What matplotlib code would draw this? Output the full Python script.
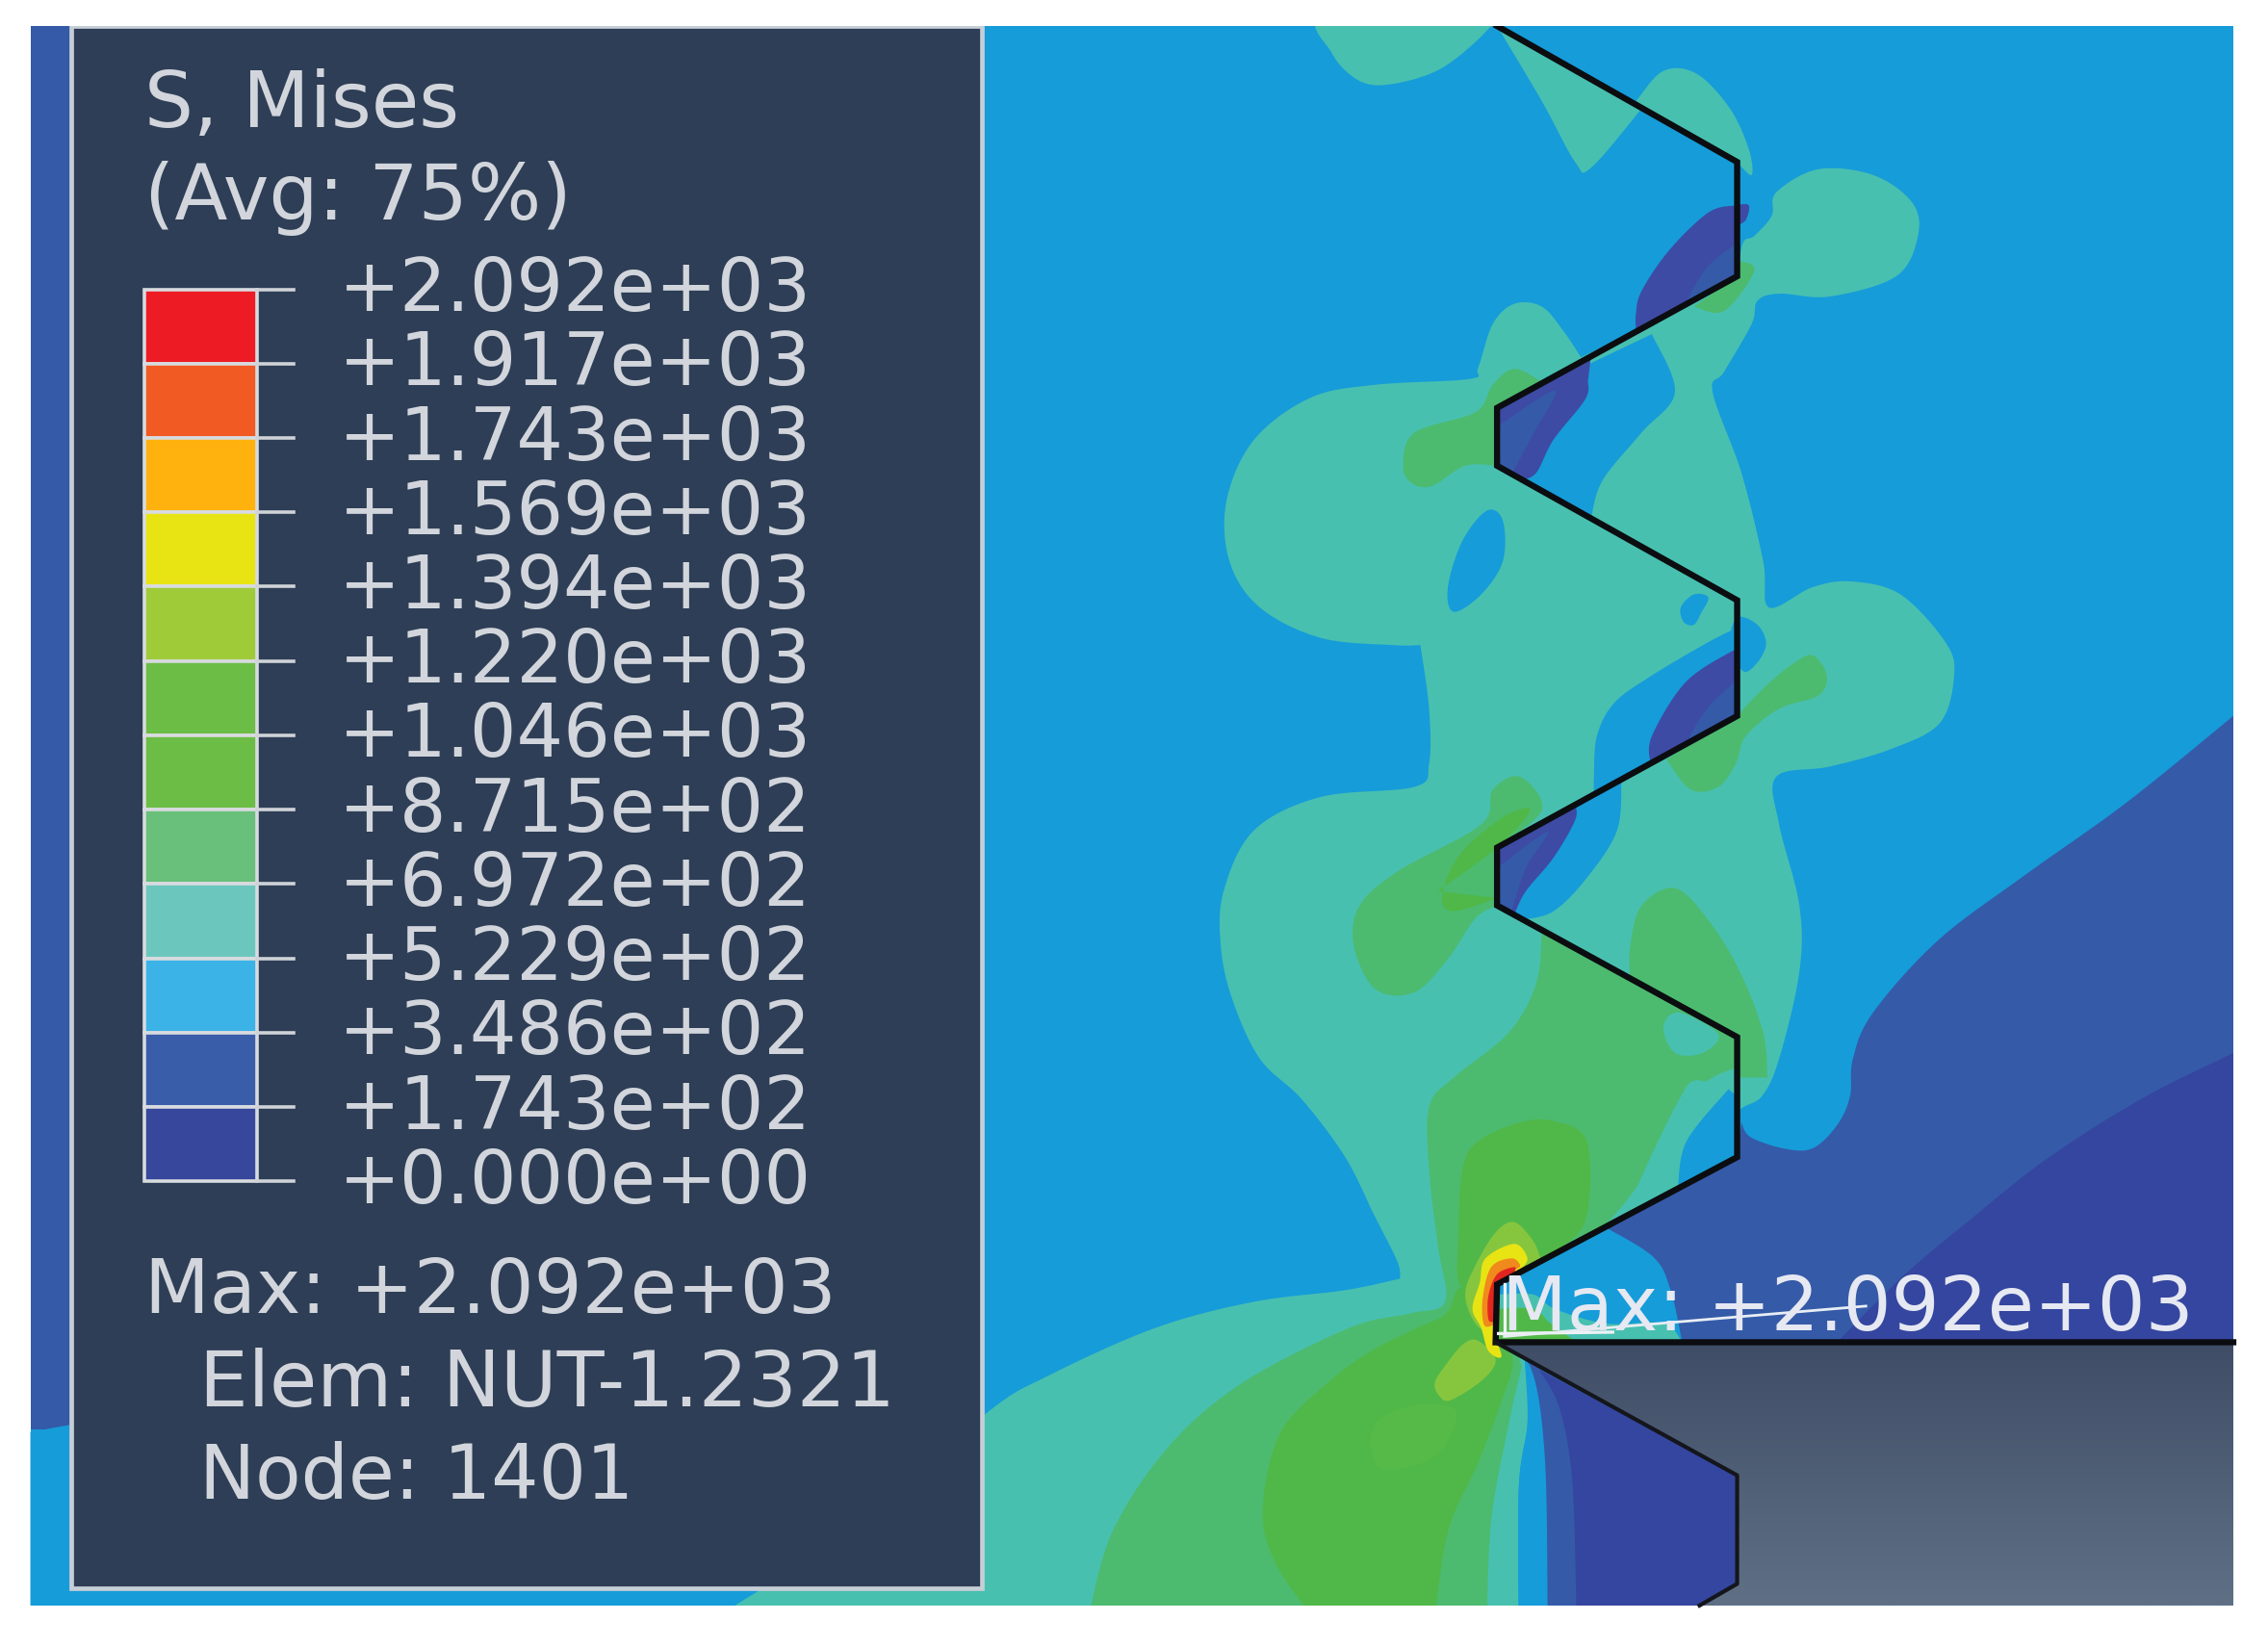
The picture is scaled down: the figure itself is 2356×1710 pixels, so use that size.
import numpy as np
import matplotlib
matplotlib.use("Agg")
import matplotlib.pyplot as plt
from matplotlib.patches import Polygon, Rectangle
from matplotlib.colors import LinearSegmentedColormap

# contour band colours, lowest to highest
C_DARK = "#34469f"
C_BLUE = "#355aa8"
C_SKY = "#169cd9"
C_TEAL = "#48c0b0"
C_SEA = "#4cbb70"
C_GREEN = "#50b848"
C_LIME = "#86c63f"
C_YELLOW = "#e8e414"
C_ORANGE = "#f08a1c"
C_RED = "#e2261f"

level_labels = ["+2.092e+03", "+1.917e+03", "+1.743e+03", "+1.569e+03", "+1.394e+03",
                "+1.220e+03", "+1.046e+03", "+8.715e+02", "+6.972e+02", "+5.229e+02",
                "+3.486e+02", "+1.743e+02", "+0.000e+00"]
legend_colors = ["#ed1c24", "#f15a22", "#ffb20e", C_YELLOW, "#a0cb39", "#6cbd45", "#6cbd45",
                 "#69c07a", "#6bc7bd", "#3cb3e6", "#3a5daa", "#37479c"]

# outlines in pixels of a 1568x1138 view; a repeated point is a sharp corner
thread = [(1035, 18), (1201, 112), (1201, 191), (1035, 282), (1035, 322), (1201, 415),
          (1201, 495), (1035, 586), (1035, 626), (1201, 717), (1201, 800), (1035, 888),
          (1034, 928), (1544, 928)]
nut_edge = [(1034, 928), (1201, 1020), (1201, 1095), (1175, 1110)]
nut_body = [(1034, 928), (1544, 928), (1544, 1110), (1175, 1110), (1201, 1095), (1201, 1020)]

teal_main = [(1093, 247), (1093, 247), (1081, 229), (1066, 212), (1047, 210), (1032, 224),
             (1022, 254), (1016, 262), (951, 266), (906, 275), (867, 304), (848, 346),
             (850, 388), (871, 420), (913, 441), (963, 446), (982, 446), (982, 446),
             (988, 490), (988, 528), (978, 544), (913, 551), (867, 574), (846, 616),
             (844, 654), (852, 691), (871, 732), (900, 760), (930, 800), (950, 840),
             (966, 872), (968, 884), (968, 884), (930, 892), (867, 900), (799, 918),
             (725, 951), (682, 977), (600, 1050), (505, 1112), (505, 1112), (500, 1130), (500, 1130),
             (1050, 1130), (1050, 1130), (1050, 1029), (1056, 985), (1058, 945), (1058, 945),
             (1035, 888), (1035, 888), (1120, 842), (1201, 800), (1201, 800),
             (1201, 770), (1218, 758), (1230, 732), (1244, 672), (1244, 626), (1230, 570),
             (1228, 537), (1265, 530), (1307, 518), (1341, 500), (1351, 467), (1345, 444),
             (1314, 411), (1280, 402), (1253, 406), (1223, 420), (1219, 388), (1204, 327),
             (1184, 271), (1192, 257), (1211, 224), (1215, 208), (1230, 203), (1265, 205),
             (1311, 191), (1326, 163), (1322, 140), (1295, 121), (1257, 117), (1228, 133),
             (1225, 149), (1213, 163), (1205, 168), (1201, 191), (1201, 191), (1150, 219)]
teal_top = [(917, 10), (921, 37), (940, 56), (963, 58), (997, 47), (1028, 21), (1030, 10)]
teal_wedge = [(1035, 18), (1035, 18), (1066, 70), (1089, 112), (1100, 116), (1135, 75), (1135, 75)]
teal_cap = [(1131, 70), (1131, 70), (1150, 49), (1173, 51), (1196, 75), (1209, 103), (1211, 121),
            (1201, 112), (1201, 112)]

sky_holes = [
    [(1142, 231), (1142, 231), (1158, 271), (1135, 299), (1108, 332), (1100, 358), (1100, 358),
     (1035, 322), (1035, 322), (1035, 282), (1035, 282)],
    [(1201, 434), (1201, 434), (1181, 444), (1142, 467), (1116, 486), (1104, 509), (1102, 537),
     (1102, 549), (1102, 549), (1201, 495), (1201, 495)],
    [(1121, 538), (1121, 538), (1118, 574), (1097, 607), (1074, 630), (1052, 636), (1052, 636),
     (1035, 626), (1035, 626), (1035, 586), (1035, 586)],
    [(1028, 353), (1039, 360), (1039, 388), (1024, 411), (1005, 423), (1001, 406), (1011, 374)],
    [(1201, 427), (1215, 432), (1221, 445), (1215, 458), (1205, 464), (1196, 445)],
    [(1162, 420), (1171, 411), (1181, 413), (1176, 424), (1171, 432), (1164, 430)],
]

dark_pockets = [
    [(1131, 228), (1131, 228), (1131, 217), (1135, 201), (1154, 173), (1181, 147), (1200, 142),
     (1209, 142), (1207, 152), (1201, 156), (1201, 156), (1201, 191), (1201, 191)],
    [(1035, 282), (1035, 282), (1100, 246), (1100, 246), (1098, 262), (1096, 276), (1074, 304),
     (1062, 327), (1051, 332), (1051, 332), (1035, 322), (1035, 322)],
    [(1141, 528), (1141, 528), (1142, 509), (1165, 472), (1196, 451), (1201, 451), (1201, 451),
     (1201, 495), (1201, 495)],
    [(1035, 586), (1035, 586), (1089, 556), (1089, 556), (1089, 567), (1074, 593), (1055, 616),
     (1047, 632), (1047, 632), (1035, 626), (1035, 626)],
]
blue_corners = [
    [(1201, 168), (1201, 168), (1180, 185), (1165, 210), (1165, 210), (1201, 191), (1201, 191)],
    [(1035, 295), (1035, 295), (1075, 270), (1060, 300), (1045, 328), (1045, 328), (1035, 322), (1035, 322)],
    [(1201, 470), (1201, 470), (1180, 490), (1165, 515), (1165, 515), (1201, 495), (1201, 495)],
    [(1035, 600), (1035, 600), (1070, 575), (1055, 600), (1045, 630), (1045, 630), (1035, 626), (1035, 626)],
]

blue_zone = [(1560, 482), (1560, 482), (1544, 495), (1470, 555), (1400, 605), (1340, 650), (1295, 700),
             (1281, 732), (1279, 758), (1270, 778), (1253, 794), (1233, 794), (1210, 786),
             (1204, 776), (1204, 776), (1201, 800), (1201, 800), (1035, 888), (1035, 888),
             (1034, 928), (1034, 928), (1560, 928), (1560, 928)]
dark_zone = [(1544, 728), (1544, 728), (1480, 760), (1414, 802), (1360, 845), (1316, 882),
             (1270, 928), (1270, 928), (1544, 928), (1544, 928)]
sky_bulb = [(1035, 888), (1035, 888), (1109, 848), (1109, 848), (1143, 869), (1155, 892),
            (1163, 928), (1163, 928), (1034, 928), (1034, 928)]
teal_base = [(1035, 895), (1035, 895), (1060, 895), (1075, 905), (1110, 915), (1150, 915),
             (1163, 928), (1163, 928), (1034, 928), (1034, 928)]
green_base = [(1035, 905), (1035, 905), (1060, 905), (1072, 915), (1090, 928), (1090, 928),
              (1034, 928), (1034, 928)]

# wedge under the root of the thread
low_blue = [(1036, 930), (1036, 930), (1058, 945), (1068, 1007), (1070, 1120), (1070, 1120),
            (1180, 1120), (1180, 1120), (1201, 1095), (1201, 1095), (1201, 1020), (1201, 1020)]
low_sky = [(1054, 938), (1054, 938), (1058, 945), (1068, 1007), (1070, 1120), (1070, 1120),
           (1050, 1120), (1050, 1120), (1050, 1029), (1056, 985)]
low_dark = [(1064, 947), (1064, 947), (1078, 973), (1087, 1024), (1090, 1120), (1090, 1120),
            (1175, 1120), (1175, 1120), (1201, 1095), (1201, 1095), (1201, 1020), (1201, 1020)]

sea_root = [(1066, 643), (1066, 643), (1062, 680), (1043, 714), (1005, 745), (988, 765), (988, 809),
            (994, 861), (999, 900), (975, 908), (933, 918), (859, 956), (808, 1000), (769, 1059),
            (752, 1120), (752, 1120), (1028, 1120), (1028, 1120), (1031, 1051), (1043, 985),
            (1052, 945), (1052, 945), (1036, 888), (1036, 888), (1109, 848), (1109, 848),
            (1132, 820), (1172, 758), (1184, 745), (1201, 738), (1201, 738), (1201, 717), (1201, 717),
            (1130, 678)]
sea_cap = [(1127, 676), (1127, 676), (1127, 654), (1135, 626), (1158, 614), (1181, 636), (1203, 672),
           (1219, 714), (1222, 745), (1222, 745), (1201, 745), (1201, 745), (1201, 717), (1201, 717)]
teal_oval = [(1150, 710), (1161, 700), (1188, 715), (1177, 728), (1158, 728)]
teal_strip = [(1172, 747), (1195, 753), (1195, 753), (1166, 796), (1140, 830), (1112, 848), (1112, 848),
              (1126, 832), (1143, 796), (1161, 760)]
sky_strip = [(1195, 753), (1195, 753), (1201, 758), (1201, 758), (1201, 800), (1201, 800),
             (1160, 821), (1160, 821), (1166, 789)]
sea_pods = [
    [(970, 322), (978, 299), (1020, 285), (1032, 266), (1047, 255), (1066, 264), (1066, 264),
     (1035, 282), (1035, 282), (1035, 322), (1035, 322), (1013, 322), (990, 336), (976, 334)],
    [(1171, 212), (1171, 212), (1192, 215), (1213, 187), (1201, 180), (1201, 180), (1201, 191), (1201, 191)],
    [(1201, 495), (1201, 495), (1219, 476), (1238, 460), (1253, 453), (1263, 467), (1257, 481),
     (1230, 490), (1207, 509), (1200, 528), (1188, 544), (1169, 546), (1152, 525), (1152, 525)],
    [(1035, 586), (1035, 586), (1066, 560), (1051, 537), (1032, 546), (1024, 570), (967, 602), (940, 626),
     (936, 654), (951, 684), (978, 686), (1001, 663), (1020, 635), (1035, 626), (1035, 626)],
]
green_pod = [(994, 616), (994, 616), (1035, 586), (1058, 560), (1039, 565), (1009, 591), (997, 620),
             (1005, 630), (1035, 621), (1035, 621)]
green_upper = [(1051, 776), (1074, 775), (1097, 789), (1097, 840), (1080, 862), (1035, 888), (1035, 888),
               (1034, 915), (1034, 915), (1010, 890), (1008, 860), (1011, 809), (1022, 789)]
green_lower = [(980, 918), (948, 934), (918, 956), (885, 991), (873, 1044), (882, 1081), (909, 1120),
               (909, 1120), (992, 1120), (992, 1120), (1001, 1059), (1022, 1011), (1038, 969),
               (1046, 940), (1034, 925), (1034, 900), (1010, 890), (1000, 908)]
green_glow = [(950, 985), (980, 971), (1007, 976), (992, 1007), (954, 1015)]
lime_top = [(1034, 852), (1047, 845), (1060, 858), (1065, 870), (1065, 870), (1035, 888), (1035, 888),
            (1034, 925), (1034, 925), (1020, 915), (1013, 895), (1020, 875)]
lime_low = [(992, 956), (1000, 943), (1012, 929), (1022, 927), (1034, 940), (1025, 954), (1003, 968),
            (995, 965)]
yellow_tip = [(1027, 870), (1047, 860), (1056, 870), (1051, 878), (1051, 878), (1035, 888), (1035, 888),
              (1034, 921), (1038, 938), (1029, 934), (1024, 918), (1018, 905), (1023, 887)]
orange_tip = [(1031, 876), (1045, 870), (1051, 875), (1047, 878), (1047, 878), (1035, 888), (1035, 888),
              (1033, 916), (1033, 916), (1026, 916), (1025, 898)]
red_tip = [(1035, 881), (1047, 876), (1047, 880), (1047, 880), (1035, 888), (1035, 888), (1033, 914),
           (1033, 914), (1029, 912), (1029, 896)]


def smooth(points, steps=12):
    """Closed Catmull-Rom curve through the outline points."""
    pts = np.array(points, dtype=float)
    n = len(pts)
    out = []
    for i in range(n):
        p0, p1, p2, p3 = pts[i - 1], pts[i], pts[(i + 1) % n], pts[(i + 2) % n]
        if np.allclose(p1, p2):
            out.append(p1)
            continue
        for t in np.linspace(0, 1, steps, endpoint=False):
            out.append(0.5 * (2 * p1 + (p2 - p0) * t + (2 * p0 - 5 * p1 + 4 * p2 - p3) * t ** 2
                              + (3 * p1 - p0 - 3 * p2 + p3) * t ** 3))
    return np.array(out)


fig = plt.figure(figsize=(23.56, 17.10), dpi=100, facecolor="white")
ax = fig.add_axes([0, 0, 1, 1])
ax.axis("off")

frame = Rectangle((21, 18), 1523, 1092, facecolor=C_SKY, edgecolor="none", zorder=0)
ax.add_patch(frame)


def fill(points, color):
    shape = Polygon(smooth(points), closed=True, facecolor=color, edgecolor="none")
    ax.add_patch(shape)
    shape.set_clip_path(frame)


for outline in [teal_main, teal_top, teal_wedge, teal_cap]:
    fill(outline, C_TEAL)
for hole in sky_holes:
    fill(hole, C_SKY)

fill(sea_root, C_SEA)
fill(sea_cap, C_SEA)
fill(teal_oval, C_TEAL)
fill(teal_strip, C_TEAL)
fill(sky_strip, C_SKY)
for pod in sea_pods:
    fill(pod, C_SEA)
fill(green_pod, C_GREEN)
fill(green_upper, C_GREEN)
fill(green_lower, C_GREEN)
fill(green_glow, "#55ba47")

fill(lime_top, C_LIME)
fill(lime_low, C_LIME)
fill(yellow_tip, C_YELLOW)
fill(orange_tip, C_ORANGE)
fill(red_tip, C_RED)

fill(low_sky, C_SKY)
fill(low_blue, C_BLUE)
fill(low_dark, C_DARK)
fill(blue_zone, C_BLUE)
fill(dark_zone, C_DARK)
fill(sky_bulb, C_SKY)
fill(teal_base, C_TEAL)
fill(green_base, C_GREEN)

for pocket in dark_pockets:
    fill(pocket, "#3d4ba4")
for pocket in blue_corners:
    fill(pocket, C_BLUE)

# grey fixture with its vertical gradient
gray_map = LinearSegmentedColormap.from_list("fixture", ["#3f4d66", "#5f7085"])
body = Polygon(nut_body, closed=True, facecolor="none", edgecolor="none")
ax.add_patch(body)
grad = ax.imshow(np.linspace(0, 1, 100).reshape(-1, 1), cmap=gray_map, aspect="auto",
                 extent=(1034, 1544, 1110, 928), zorder=1.5)
grad.set_clip_path(body)

tx, ty = zip(*thread)
ax.plot(tx, ty, color="#0b0d10", lw=4.6, solid_joinstyle="miter", zorder=3)
nx, ny = zip(*nut_edge)
ax.plot(nx, ny, color="#14161c", lw=3, zorder=3)

# legend panel
strip_low = Polygon([(21, 990), (49, 985), (49, 1110), (21, 1110)], facecolor=C_SKY, edgecolor="none", zorder=3)
strip_up = Rectangle((21, 18), 28, 970, facecolor=C_BLUE, edgecolor="none", zorder=3)
strip_bot = Rectangle((21, 1098), 484, 12, facecolor=C_SKY, edgecolor="none", zorder=3)
ax.add_patch(strip_up)
ax.add_patch(strip_low)
ax.add_patch(strip_bot)
ax.add_patch(Rectangle((49, 18), 630, 1080, facecolor="#2e3e56", edgecolor="#c6ced6", lw=3.4, zorder=4))
ax.add_patch(Rectangle((15, 0), 1540, 18, facecolor="white", edgecolor="none", zorder=4.5))

bar_left, bar_right, bar_top, bar_step = 100, 178, 200, 51.4
for i, color in enumerate(legend_colors):
    ax.add_patch(Rectangle((bar_left, bar_top + i * bar_step), bar_right - bar_left, bar_step,
                           facecolor=color, edgecolor="#d8dbdf", lw=2.6, zorder=5))
for i, label in enumerate(level_labels):
    y = bar_top + i * bar_step
    ax.plot([bar_right, 203], [y, y], color="#cfd3d8", lw=2.6, zorder=5)
    ax.text(234, y + 1, label, color="#d2d6dc", fontsize=55, va="center", ha="left", zorder=6)

panel_text = [("S, Mises", 100, 88, 58), ("(Avg: 75%)", 100, 152, 58), ("Max: +2.092e+03", 100, 908, 56.5),
              ("Elem: NUT-1.2321", 138, 972, 57.8), ("Node: 1401", 138, 1036, 56)]
for text, x, y, size in panel_text:
    ax.text(x, y, text, color="#d2d6dc", fontsize=size, va="baseline", ha="left", zorder=6)

ax.plot([1040, 1040], [888, 921], color="#eef2f6", lw=2.4, zorder=6)
ax.plot([1036, 1115], [922, 921], color="#eef2f6", lw=2.4, zorder=6)
ax.plot([1040, 1290], [924, 903], color="#e8eef4", lw=2, zorder=6)
ax.text(1038, 920, "Max: +2.092e+03", color="#e6e8f2", fontsize=56.5, va="baseline", ha="left", zorder=6)

ax.set_xlim(0, 1568)
ax.set_ylim(1138, 0)
fig.savefig("out.png", dpi=100, facecolor="white")
